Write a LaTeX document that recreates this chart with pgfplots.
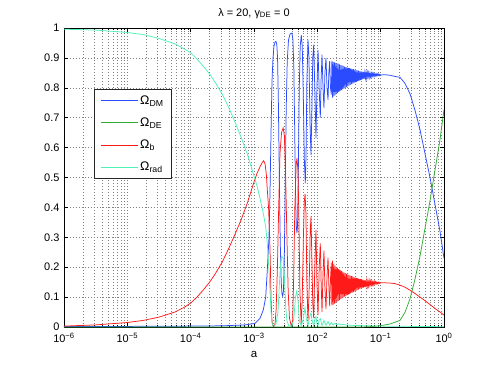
\documentclass[border=0pt]{standalone}
\usepackage{fontspec}
\setmainfont{Liberation Sans}
\usepackage{pgfplots}
\usepackage{pgfplotstable}
\pgfplotsset{compat=1.18}
\definecolor{cDM}{HTML}{2B4BFF}
\definecolor{cDE}{HTML}{33AA33}
\definecolor{cB}{HTML}{FF1A1A}
\definecolor{cRad}{HTML}{4FF2B4}

% density parameters vs log10(a)
\pgfplotstableread{
lx y
-6.000 0.002
-5.000 0.002
-4.000 0.003
-3.500 0.004
-3.142 0.007
-2.984 0.012
-2.905 0.029
-2.853 0.057
-2.815 0.100
-2.790 0.190
-2.763 0.300
-2.747 0.450
-2.731 0.650
-2.716 0.820
-2.700 0.900
-2.684 0.940
-2.668 0.953
-2.653 0.955
-2.640 0.945
-2.628 0.900
-2.615 0.750
-2.600 0.500
-2.585 0.280
-2.570 0.150
-2.558 0.110
-2.547 0.103
-2.535 0.120
-2.522 0.220
-2.508 0.450
-2.492 0.720
-2.475 0.890
-2.455 0.960
-2.430 0.980
-2.400 0.983
-2.385 0.960
-2.370 0.860
-2.355 0.620
-2.340 0.400
-2.330 0.330
-2.321 0.314
-2.312 0.340
-2.300 0.520
-2.285 0.800
-2.270 0.940
-2.253 0.976
-2.238 0.940
-2.222 0.780
-2.205 0.560
-2.190 0.480
-2.178 0.580
-2.165 0.820
-2.147 0.961
-2.132 0.900
-2.115 0.680
-2.100 0.576
-2.088 0.700
-2.072 0.900
-2.057 0.944
-2.040 0.800
-2.021 0.632
-2.006 0.800
-1.989 0.927
-1.972 0.800
-1.953 0.700
-1.940 0.830
-1.926 0.911
-1.910 0.800
-1.895 0.732
-1.880 0.850
-1.863 0.900
-1.847 0.800
-1.831 0.760
-1.818 0.850
-1.805 0.889
-1.792 0.800
-1.779 0.777
-1.77 0.890
-1.76 0.767
-1.75 0.887
-1.74 0.771
-1.73 0.885
-1.72 0.775
-1.71 0.883
-1.70 0.779
-1.69 0.882
-1.68 0.782
-1.67 0.881
-1.66 0.786
-1.65 0.878
-1.64 0.790
-1.63 0.876
-1.62 0.792
-1.61 0.875
-1.60 0.795
-1.59 0.873
-1.58 0.797
-1.57 0.871
-1.56 0.800
-1.55 0.869
-1.54 0.802
-1.53 0.868
-1.52 0.805
-1.51 0.867
-1.50 0.807
-1.49 0.866
-1.48 0.810
-1.47 0.864
-1.46 0.812
-1.45 0.863
-1.44 0.814
-1.43 0.862
-1.42 0.816
-1.41 0.861
-1.40 0.818
-1.39 0.859
-1.38 0.820
-1.37 0.858
-1.36 0.822
-1.35 0.857
-1.34 0.824
-1.33 0.856
-1.32 0.826
-1.31 0.855
-1.30 0.827
-1.29 0.854
-1.28 0.829
-1.27 0.853
-1.26 0.830
-1.25 0.852
-1.24 0.832
-1.23 0.852
-1.22 0.833
-1.21 0.851
-1.20 0.834
-1.19 0.850
-1.18 0.835
-1.17 0.849
-1.16 0.836
-1.15 0.849
-1.14 0.837
-1.13 0.848
-1.12 0.838
-1.11 0.848
-1.10 0.839
-1.09 0.847
-1.08 0.840
-1.07 0.847
-1.06 0.840
-1.05 0.846
-1.04 0.841
-1.03 0.846
-1.02 0.841
-1.01 0.845
-1.00 0.842
-0.98 0.843
-0.95 0.844
-0.852 0.842
-0.773 0.838
-0.695 0.835
-0.616 0.815
-0.537 0.780
-0.458 0.725
-0.379 0.660
-0.300 0.580
-0.221 0.500
-0.142 0.410
-0.063 0.320
0.000 0.230
}\dmtab

\pgfplotstableread{
lx y
-6.000 0.000
-1.300 0.000
-1.100 0.002
-1.010 0.004
-0.852 0.010
-0.695 0.022
-0.616 0.049
-0.537 0.094
-0.458 0.160
-0.379 0.237
-0.300 0.330
-0.221 0.422
-0.142 0.525
-0.063 0.627
0.000 0.727
}\detab

\pgfplotstableread{
lx y
-6.000 0.003
-5.500 0.007
-5.000 0.015
-4.750 0.022
-4.500 0.033
-4.250 0.050
-4.100 0.066
-4.000 0.080
-3.900 0.100
-3.800 0.124
-3.700 0.150
-3.600 0.182
-3.500 0.218
-3.400 0.262
-3.300 0.310
-3.200 0.360
-3.100 0.418
-3.000 0.485
-2.950 0.515
-2.900 0.538
-2.870 0.550
-2.847 0.556
-2.825 0.545
-2.805 0.510
-2.790 0.460
-2.770 0.400
-2.747 0.260
-2.730 0.090
-2.716 0.020
-2.700 0.003
-2.684 0.002
-2.668 0.010
-2.650 0.060
-2.630 0.200
-2.610 0.400
-2.590 0.580
-2.565 0.650
-2.540 0.666
-2.520 0.640
-2.500 0.500
-2.480 0.300
-2.460 0.120
-2.440 0.030
-2.410 0.002
-2.390 0.020
-2.375 0.150
-2.355 0.400
-2.335 0.540
-2.321 0.565
-2.305 0.520
-2.290 0.350
-2.275 0.120
-2.255 0.010
-2.240 0.080
-2.220 0.300
-2.205 0.420
-2.193 0.445
-2.180 0.380
-2.165 0.150
-2.147 0.020
-2.130 0.120
-2.112 0.320
-2.100 0.370
-2.088 0.250
-2.072 0.080
-2.057 0.030
-2.040 0.200
-2.021 0.325
-2.006 0.150
-1.989 0.040
-1.970 0.200
-1.953 0.280
-1.940 0.150
-1.926 0.050
-1.910 0.180
-1.895 0.255
-1.880 0.130
-1.863 0.060
-1.847 0.170
-1.831 0.232
-1.818 0.140
-1.805 0.070
-1.792 0.160
-1.779 0.215
-1.77 0.072
-1.76 0.222
-1.75 0.075
-1.74 0.211
-1.73 0.078
-1.72 0.205
-1.71 0.081
-1.70 0.201
-1.69 0.084
-1.68 0.198
-1.67 0.087
-1.66 0.194
-1.65 0.090
-1.64 0.190
-1.63 0.093
-1.62 0.188
-1.61 0.096
-1.60 0.185
-1.59 0.099
-1.58 0.183
-1.57 0.102
-1.56 0.180
-1.55 0.104
-1.54 0.178
-1.53 0.106
-1.52 0.176
-1.51 0.108
-1.50 0.174
-1.49 0.110
-1.48 0.172
-1.47 0.113
-1.46 0.170
-1.45 0.115
-1.44 0.169
-1.43 0.117
-1.42 0.167
-1.41 0.119
-1.40 0.165
-1.39 0.121
-1.38 0.164
-1.37 0.123
-1.36 0.163
-1.35 0.125
-1.34 0.161
-1.33 0.128
-1.32 0.160
-1.31 0.129
-1.30 0.159
-1.29 0.131
-1.28 0.158
-1.27 0.132
-1.26 0.157
-1.25 0.134
-1.24 0.156
-1.23 0.135
-1.22 0.155
-1.21 0.136
-1.20 0.155
-1.19 0.137
-1.18 0.154
-1.17 0.139
-1.16 0.153
-1.15 0.140
-1.14 0.153
-1.13 0.141
-1.12 0.152
-1.11 0.142
-1.10 0.152
-1.09 0.143
-1.08 0.151
-1.07 0.144
-1.06 0.150
-1.05 0.145
-1.04 0.150
-1.03 0.145
-1.02 0.149
-1.01 0.146
-1.00 0.148
-0.98 0.148
-0.95 0.148
-0.852 0.147
-0.773 0.145
-0.695 0.140
-0.616 0.133
-0.537 0.123
-0.458 0.112
-0.379 0.100
-0.300 0.088
-0.221 0.075
-0.142 0.062
-0.063 0.050
0.000 0.040
}\btab

\pgfplotstableread{
lx y
-6.000 0.996
-5.500 0.993
-5.000 0.985
-4.750 0.978
-4.500 0.965
-4.250 0.947
-4.100 0.930
-4.000 0.917
-3.900 0.896
-3.800 0.872
-3.700 0.846
-3.600 0.814
-3.500 0.778
-3.400 0.735
-3.300 0.685
-3.200 0.633
-3.100 0.575
-3.000 0.505
-2.950 0.470
-2.905 0.430
-2.853 0.380
-2.815 0.335
-2.790 0.280
-2.763 0.190
-2.747 0.120
-2.730 0.050
-2.716 0.015
-2.700 0.004
-2.684 0.003
-2.653 0.010
-2.621 0.050
-2.600 0.140
-2.580 0.210
-2.560 0.236
-2.540 0.230
-2.520 0.170
-2.500 0.070
-2.480 0.020
-2.450 0.004
-2.400 0.003
-2.370 0.030
-2.345 0.100
-2.325 0.120
-2.305 0.090
-2.285 0.020
-2.253 0.003
-2.220 0.030
-2.195 0.065
-2.175 0.030
-2.147 0.004
-2.120 0.035
-2.100 0.047
-2.080 0.020
-2.057 0.004
-2.035 0.030
-2.021 0.035
-2.005 0.010
-1.989 0.004
-1.970 0.025
-1.953 0.028
-1.926 0.005
-1.895 0.022
-1.863 0.006
-1.831 0.018
-1.805 0.006
-1.779 0.015
-1.750 0.007
-1.720 0.013
-1.690 0.007
-1.660 0.011
-1.630 0.007
-1.600 0.009
-1.550 0.007
-1.400 0.005
-1.200 0.004
-1.000 0.003
-0.500 0.002
0.000 0.001
}\radtab

\begin{document}
\begin{tikzpicture}
\begin{axis}[
  name=ax,
  scale only axis,
  width=380bp, height=299bp,
  xmode=log,
  xmin=1e-6, xmax=1,
  ymin=0, ymax=1,
  xtick={1e-6,1e-5,1e-4,1e-3,1e-2,1e-1,1},
  xticklabels={10\textsuperscript{−6},10\textsuperscript{−5},10\textsuperscript{−4},10\textsuperscript{−3},10\textsuperscript{−2},10\textsuperscript{−1},10\textsuperscript{0}},
  minor xtick={2e-6,3e-6,4e-6,5e-6,6e-6,7e-6,8e-6,9e-6,
    2e-5,3e-5,4e-5,5e-5,6e-5,7e-5,8e-5,9e-5,
    2e-4,3e-4,4e-4,5e-4,6e-4,7e-4,8e-4,9e-4,
    2e-3,3e-3,4e-3,5e-3,6e-3,7e-3,8e-3,9e-3,
    2e-2,3e-2,4e-2,5e-2,6e-2,7e-2,8e-2,9e-2,
    0.2,0.3,0.4,0.5,0.6,0.7,0.8,0.9},
  ytick={0,0.1,0.2,0.3,0.4,0.5,0.6,0.7,0.8,0.9,1},
  scaled y ticks=false,
  yticklabel style={/pgf/number format/fixed, xshift=-1bp},
  xticklabel style={yshift=-3bp},
  /pgf/number format/assume math mode=true,
  tick label style={font=\fontsize{11}{13}\selectfont},
  xmajorgrids, xminorgrids, ymajorgrids,
  major grid style={black!50, dash pattern=on 0.6pt off 2.4pt, line width=0.5pt},
  minor grid style={black!50, dash pattern=on 0.6pt off 2.4pt, line width=0.5pt},
  tick align=inside,
  major tick length=4bp, minor tick length=2bp,
  tick style={black, line width=0.5pt},
  axis line style={black, line width=0.5pt},
  xlabel={a},
  xlabel style={font=\fontsize{11.5}{13}\selectfont, yshift=-2bp},
  title={λ = 20, γ\textsubscript{DE} = 0},
  title style={font=\fontsize{11}{13}\selectfont, yshift=0bp},
  legend cell align=left,
  legend style={at={(0.079,0.796)}, anchor=north west, draw=black!85,
    line width=0.9pt, fill=white, font=\fontsize{12.5}{14}\selectfont,
    inner xsep=6bp, inner ysep=4bp, row sep=8bp},
  legend image code/.code={\draw[#1, line width=0.75pt] (0bp,0bp) -- (37bp,0bp);},
  every axis plot/.append style={line width=0.75pt},
]
\addplot[color=cDM] table[x expr={10^(\thisrow{lx})}, y=y] {\dmtab};
\addlegendentry{Ω\textsubscript{DM}}
\addplot[color=cDE] table[x expr={10^(\thisrow{lx})}, y=y] {\detab};
\addlegendentry{Ω\textsubscript{DE}}
\addplot[color=cB] table[x expr={10^(\thisrow{lx})}, y=y] {\btab};
\addlegendentry{Ω\textsubscript{b}}
\addplot[color=cRad] table[x expr={10^(\thisrow{lx})}, y=y] {\radtab};
\addlegendentry{Ω\textsubscript{rad}}
\coordinate (BL) at (rel axis cs:0,0);
\coordinate (TR) at (rel axis cs:1,1);
\end{axis}
\path ([xshift=-64bp,yshift=-42bp]BL) rectangle ([xshift=47bp,yshift=28bp]TR);
\end{tikzpicture}
\end{document}
